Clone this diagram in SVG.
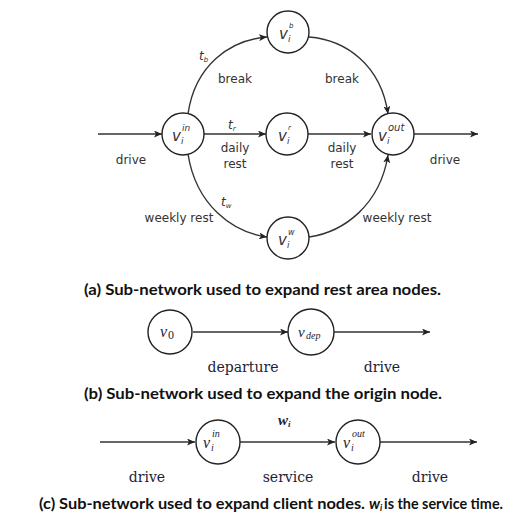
<svg xmlns="http://www.w3.org/2000/svg" width="514" height="520" viewBox="0 0 514 520">
<defs>
<marker id="arr" markerUnits="userSpaceOnUse" markerWidth="9" markerHeight="7" refX="8" refY="3.5" orient="auto">
<path d="M0,0 L8,3.5 L0,7 L2,3.5 z" fill="#222"/>
</marker>
</defs>
<style>
.node{fill:#fff;stroke:#222;stroke-width:1.4}
.edge{fill:none;stroke:#333;stroke-width:1.4;marker-end:url(#arr)}
.lab{font-family:"DejaVu Sans",Verdana,sans-serif;font-size:12px;fill:#333;text-anchor:middle}
.it{font-family:"DejaVu Sans",Verdana,sans-serif;font-style:italic;fill:#333}
.ser{font-family:"DejaVu Serif","Liberation Serif",serif;font-size:14px;fill:#1e2235;text-anchor:middle}
.sit{font-family:"Liberation Serif","DejaVu Serif",serif;font-style:italic;fill:#1e2235}
.sup{font-family:"Liberation Serif","DejaVu Serif",serif;font-style:normal;fill:#1e2235}
.cap{font-family:Lato,"Liberation Sans",sans-serif;font-weight:bold;font-size:15px;fill:#111}
</style>
<rect width="514" height="520" fill="#fff"/>

<g id="connectors">
<line class="edge" x1="98" y1="134" x2="162" y2="134"/>
<line class="edge" x1="204" y1="134" x2="266" y2="134"/>
<line class="edge" x1="308" y1="134" x2="371" y2="134"/>
<line class="edge" x1="414" y1="134" x2="478" y2="134"/>
<path class="edge" d="M188,114 C195,65 230,40 267,37"/>
<path class="edge" d="M309,37 C346,40 381,65 388,114"/>
<path class="edge" d="M188,154 C196,205 232,232 267,237"/>
<path class="edge" d="M309,237 C344,232 380,205 388,155"/>
<line class="edge" x1="193" y1="332" x2="288" y2="332"/>
<line class="edge" x1="334" y1="332" x2="430" y2="332"/>
<line class="edge" x1="100" y1="442" x2="195" y2="442"/>
<line class="edge" x1="240" y1="442" x2="335" y2="442"/>
<line class="edge" x1="380" y1="442" x2="477" y2="442"/>
</g>

<g id="node-vin">
<circle class="node" cx="183" cy="134" r="21"/>
<text class="it" x="172" y="141" font-size="15">v</text>
<text class="it" x="182" y="131" font-size="9">in</text>
<text class="it" x="181" y="144" font-size="9">i</text>
</g>
<g id="node-vb">
<circle class="node" cx="288" cy="32" r="21"/>
<text class="it" x="279" y="39" font-size="15">v</text>
<text class="it" x="289" y="28" font-size="7">b</text>
<text class="it" x="288" y="42" font-size="9">i</text>
</g>
<g id="node-vr">
<circle class="node" cx="287" cy="134" r="21"/>
<text class="it" x="278" y="141" font-size="15">v</text>
<text class="it" x="288" y="130" font-size="7">r</text>
<text class="it" x="287" y="144" font-size="9">i</text>
</g>
<g id="node-vout">
<circle class="node" cx="393" cy="134" r="21"/>
<text class="it" x="378" y="141" font-size="15">v</text>
<text class="it" x="388" y="131" font-size="10">out</text>
<text class="it" x="387" y="144" font-size="9">i</text>
</g>
<g id="node-vw">
<circle class="node" cx="288" cy="238" r="21"/>
<text class="it" x="278" y="245" font-size="15">v</text>
<text class="it" x="288" y="235" font-size="8">w</text>
<text class="it" x="287" y="248" font-size="9">i</text>
</g>

<g id="labels-a">
<text class="it" x="199" y="60" font-size="12">t<tspan font-size="7" dy="2">b</tspan></text>
<text class="lab" x="235" y="83">break</text>
<text class="lab" x="342" y="83">break</text>
<text class="it" x="228" y="129" font-size="12">t<tspan font-size="7" dy="2">r</tspan></text>
<text class="lab" x="235" y="152">daily</text>
<text class="lab" x="235" y="168">rest</text>
<text class="lab" x="342" y="152">daily</text>
<text class="lab" x="342" y="168">rest</text>
<text class="lab" x="131" y="164">drive</text>
<text class="lab" x="445" y="164">drive</text>
<text class="it" x="221" y="206" font-size="12">t<tspan font-size="7" dy="2">w</tspan></text>
<text class="lab" x="179" y="222">weekly rest</text>
<text class="lab" x="397" y="222">weekly rest</text>
</g>
<text class="cap" x="84" y="295" textLength="357" lengthAdjust="spacingAndGlyphs">(a) Sub-network used to expand rest area nodes.</text>

<g id="node-v0">
<circle class="node" cx="170" cy="332" r="22"/>
<text class="sit" x="160" y="337" font-size="16">v</text>
<text class="sup" x="168" y="339" font-size="12">0</text>
</g>
<g id="node-vdep">
<circle class="node" cx="311" cy="332" r="23"/>
<text class="sit" x="298" y="337" font-size="15">v</text>
<text class="sit" x="306" y="339" font-size="10">dep</text>
</g>
<g id="labels-b">
<text class="ser" x="243" y="372">departure</text>
<text class="ser" x="382" y="372">drive</text>
</g>
<text class="cap" x="84" y="399" textLength="358" lengthAdjust="spacingAndGlyphs">(b) Sub-network used to expand the origin node.</text>

<g id="node-cin">
<circle class="node" cx="218" cy="442" r="22"/>
<text class="sit" x="203" y="448" font-size="16">v</text>
<text class="sit" x="212" y="437" font-size="10">in</text>
<text class="sit" x="211" y="451" font-size="10">i</text>
</g>
<g id="node-cout">
<circle class="node" cx="358" cy="442" r="22"/>
<text class="sit" x="343" y="448" font-size="16">v</text>
<text class="sit" x="352" y="437" font-size="10">out</text>
<text class="sit" x="351" y="451" font-size="10">i</text>
</g>
<g id="labels-c">
<text class="sit" x="278" y="425" font-size="15" font-weight="bold">w<tspan font-size="9" dy="2">i</tspan></text>
<text class="ser" x="147" y="482">drive</text>
<text class="ser" x="288" y="482">service</text>
<text class="ser" x="430" y="482">drive</text>
</g>
<text class="cap" x="39" y="509" textLength="326" lengthAdjust="spacingAndGlyphs">(c) Sub-network used to expand client nodes.</text>
<text class="cap" x="369" y="509" font-style="italic" font-weight="normal">w<tspan font-size="9" dy="2">i</tspan></text>
<text class="cap" x="384" y="509" textLength="119" lengthAdjust="spacingAndGlyphs">is the service time.</text>
</svg>
